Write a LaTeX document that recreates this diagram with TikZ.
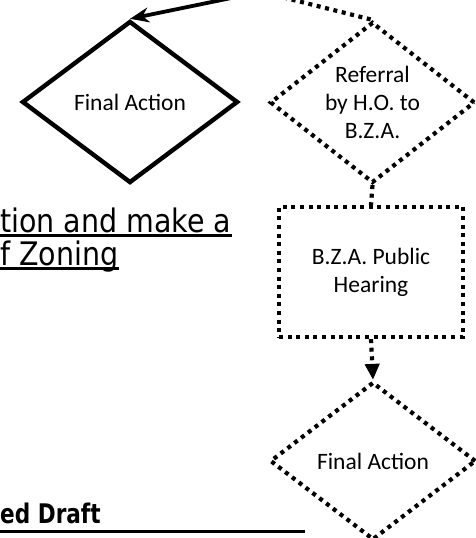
\documentclass[tikz,border=0pt]{standalone}
\usepackage{fontspec}
\setmainfont{Carlito}
\newfontfamily\bodyfont[FakeStretch=0.88]{DejaVu Sans}
\newfontfamily\headfont[FakeStretch=0.8]{DejaVu Sans}
\usetikzlibrary{shapes.geometric,arrows.meta}

\begin{document}
\begin{tikzpicture}[x=1pt,y=-1pt,
  dots/.style={line width=4.2pt,dash pattern=on 4pt off 4.6pt},
  decision/.style={diamond,draw,inner sep=0pt,aspect=1.27,align=center,
    font=\fontsize{23.5}{28}\selectfont},
  process/.style={rectangle,draw,inner sep=0pt,align=center,
    font=\fontsize{23.5}{28}\selectfont},
  textline/.style={inner sep=0pt,anchor=base west,
    font=\bodyfont\fontsize{32.4}{33}\selectfont},
  headline/.style={inner sep=0pt,anchor=base west,
    font=\headfont\bfseries\fontsize{27}{28}\selectfont}]
\clip (0,0) rectangle (476,538);
%\draw[help lines,step=20] (0,0) grid (476,538);

% flow boxes
\node[decision,line width=4.4pt,minimum width=216pt,minimum height=162pt] (act1) at (130,102) {Final Action};
\node[decision,dots,minimum width=205pt,minimum height=161pt] (refer) at (372.5,102.5) {Referral\\by H.O. to\\B.Z.A.};
\node[process,dots,minimum width=184pt,minimum height=130pt] (hear) at (371,272) {B.Z.A. Public\\Hearing};
\node[decision,dots,minimum width=206pt,minimum height=158pt] (act2) at (373,461) {Final Action};

% incoming from above
\coordinate (inA) at (275,-11);
\coordinate (inB) at (250,-11);

\draw[line width=3.8pt,-{Stealth[length=19pt,width=15pt]}] (inA) -- (act1.north);
\draw[dots] (inB) -- (refer.north);
\draw[dots] (refer.south) -- (hear.north);
\draw[dots,-{Triangle[length=16pt,width=14pt]}] (hear.south) -- (act2.north);

% page text
\node[textline] (line1) at (0,232) {tion and make a};
\node[textline] (line2) at (0,265) {f Zoning};
\node[headline] (head) at (0,523) {ed Draft};
\coordinate (ruleend) at (305,531);

\draw[line width=2.6pt] ([yshift=-3.5pt]line1.base west) -- ([yshift=-3.5pt]line1.base east);
\draw[line width=2.6pt] ([yshift=-3.5pt]line2.base west) -- ([yshift=-3.5pt]line2.base east);
\draw[line width=3pt] (head.base west |- ruleend) -- (ruleend);
\end{tikzpicture}
\end{document}
